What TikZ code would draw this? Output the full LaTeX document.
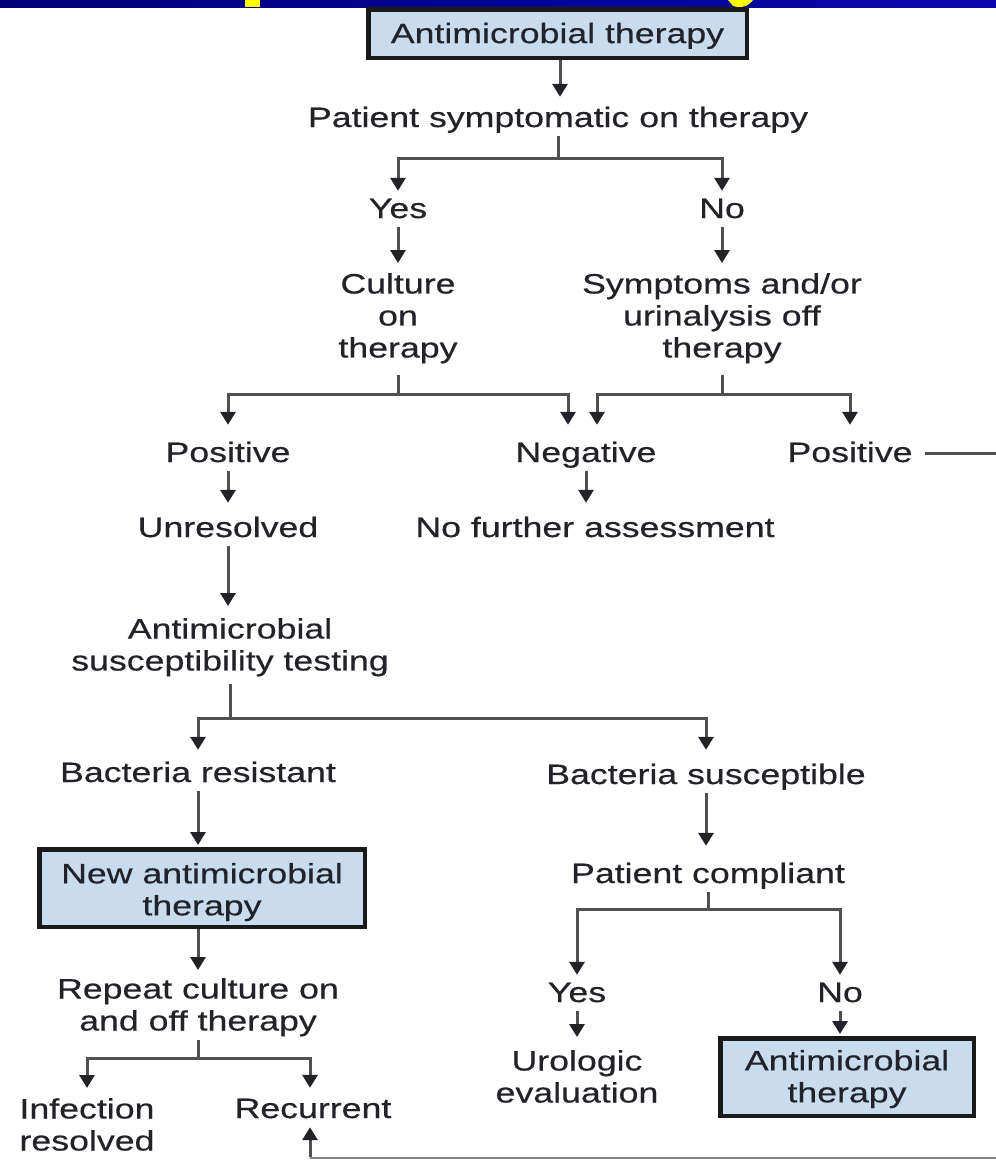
\documentclass[tikz,border=0pt]{standalone}
\usepackage{fontspec}
\setmainfont{Liberation Sans}[FakeStretch=1.275,FakeBold=0.4]
\usetikzlibrary{arrows.meta}
\definecolor{txt}{HTML}{222228}
\definecolor{lnc}{HTML}{505050}
\definecolor{boxfill}{HTML}{C8DCEE}
\definecolor{boxline}{HTML}{1A1A1A}
\definecolor{bandL}{HTML}{000078}
\definecolor{bandR}{HTML}{0808AC}
\definecolor{ylw}{HTML}{FFFF00}
\begin{document}
\begin{tikzpicture}[x=1pt,y=-1pt,
  lbl/.style={inner xsep=0pt, inner ysep=3pt, text height=20pt, text depth=6pt,
    anchor=base, text=txt, font=\fontsize{28}{32}\selectfont},
  mlbl/.style={inner xsep=0pt, inner ysep=3pt, align=center, anchor=north,
    text=txt, font=\fontsize{28}{32}\selectfont},
  bx/.style={draw=boxline, line width=4.5pt, fill=boxfill, align=center,
    text=txt, inner sep=0pt, font=\fontsize{28}{32}\selectfont},
  ln/.style={draw=lnc, line width=3pt},
  thinln/.style={draw=lnc!70, line width=1.5pt},
  arr/.style={ln, -{Triangle[width=15pt,length=13pt,color=txt]}},
]
\useasboundingbox (0,0) rectangle (996,1160);
\fill[white] (0,0) rectangle (996,1160);
% top band
\shade[left color=bandL, right color=bandR] (0,0) rectangle (996,7);
\fill[ylw] (245,0) rectangle (260,7);
\fill[ylw] (728,0) -- (753,0) -- (749,4) .. controls (746,7) and (738,8) .. (733,6) -- cycle;

% boxes
\node[bx, minimum width=378.5pt, minimum height=48.5pt] (t1) at (557.5,33.5) {\rule{0pt}{25pt}Antimicrobial therapy};
\node[bx, minimum width=325.5pt, minimum height=77.5pt] (b2) at (202,888) {\rule{0pt}{28.4pt}New antimicrobial\\therapy};
\node[bx, minimum width=253.5pt, minimum height=77.5pt] (b3) at (847,1077) {\rule{0pt}{24.4pt}Antimicrobial\\therapy};

% single-line labels
\node[lbl] (pst) at (558,127) {Patient symptomatic on therapy};
\node[lbl] (yes1) at (398,218) {Yes};
\node[lbl] (no1) at (722,218) {No};
\node[lbl] (pos1) at (228,462) {Positive};
\node[lbl] (neg) at (586,462) {Negative};
\node[lbl] (pos2) at (850,462) {Positive};
\node[lbl] (unr) at (228,537) {Unresolved};
\node[lbl] (nfa) at (595,537) {No further assessment};
\node[lbl] (br) at (198,782) {Bacteria resistant};
\node[lbl] (bs) at (706,784) {Bacteria susceptible};
\node[lbl] (pc) at (708,883) {Patient compliant};
\node[lbl] (yes2) at (577,1002) {Yes};
\node[lbl] (no2) at (840,1002) {No};
\node[lbl] (rec) at (313,1118) {Recurrent};

% multi-line labels
\node[mlbl] (cul) at (398,270) {Culture\\on\\therapy};
\node[mlbl] (sym) at (722,270) {Symptoms and/or\\urinalysis off\\therapy};
\node[mlbl] (ast) at (230,615) {Antimicrobial\\susceptibility testing};
\node[mlbl] (rep) at (198,975) {Repeat culture on\\and off therapy};
\node[mlbl] (inf) at (87,1095) {Infection\\resolved};
\node[mlbl] (uro) at (577,1047) {Urologic\\evaluation};

% junctions and free ends
\coordinate (j1) at (558,158);
\coordinate (j2) at (398,394);
\coordinate (j3) at (722,394);
\coordinate (j4) at (230,718);
\coordinate (j5) at (198,1058);
\coordinate (j6) at (708,909);
\coordinate (rE) at (996,453);
\coordinate (bR) at (996,1158);
\coordinate (bC) at (310,1158);

% connectors
\draw[arr, shorten >=7pt] (t1.south -| 560,0) -- (pst.north -| 560,0);
\draw[ln] (pst.south) -- (j1);
\draw[arr, shorten >=4pt] (j1) -| (yes1.north);
\draw[arr, shorten >=4pt] (j1) -| (no1.north);
\draw[arr, shorten >=7pt] (yes1.south) -- (cul.north);
\draw[arr, shorten >=7pt] (no1.south) -- (sym.north);
\draw[ln, shorten <=8pt] (cul.south) -- (j2);
\draw[arr, shorten >=14pt] (j2) -| (pos1.north);
\draw[arr, shorten >=14pt] (j2) -| ([xshift=-18pt]neg.north);
\draw[ln, shorten <=8pt] (sym.south) -- (j3);
\draw[arr, shorten >=14pt] (j3) -| ([xshift=11pt]neg.north);
\draw[arr, shorten >=14pt] (j3) -| (pos2.north);
\draw[ln, shorten <=12pt] ([yshift=2pt]pos2.east) -- (rE);
\draw[arr, shorten >=11pt] (pos1.south) -- (unr.north);
\draw[arr, shorten >=11pt] (neg.south) -- (neg.south |- nfa.north);
\draw[arr, shorten >=9pt] (unr.south) -- (unr.south |- ast.north);
\draw[ln, shorten <=4pt] (ast.south) -- (j4);
\draw[arr, shorten >=9pt] (j4) -| (br.north);
\draw[arr, shorten >=11pt] (j4) -| (bs.north);
\draw[arr, shorten >=2pt] (br.south) -- (br.south |- b2.north);
\draw[arr, shorten >=5pt] (b2.south -| rep.north) -- (rep.north);
\draw[ln] (rep.south) -- (j5);
\draw[arr, shorten >=7pt] (j5) -| (inf.north);
\draw[arr, shorten >=7pt] (j5) -| ([xshift=-3pt]rec.north);
\draw[arr, shorten >=14pt] (bs.south) -- (bs.south |- pc.north);
\draw[ln] (pc.south) -- (j6);
\draw[arr, shorten >=4pt] (j6) -| (yes2.north);
\draw[arr, shorten >=4pt] (j6) -| (no2.north);
\draw[arr, shorten >=10pt] (yes2.south) -- (uro.north);
\draw[arr, shorten >=2pt] (no2.south) -- (no2.south |- b3.north);
\draw[thinln] (bR) -- (bC);
\draw[arr] ([yshift=1pt]bC) -- (bC |- rec.south);
\end{tikzpicture}
\end{document}
